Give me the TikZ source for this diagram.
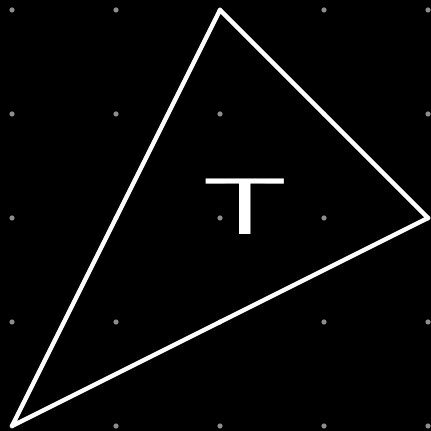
\documentclass[tikz,border=0pt]{standalone}
\usepackage{tikz}
\usetikzlibrary{positioning, calc}

\begin{document}
\begin{tikzpicture}[
          griddot/.style={circle, fill=gray!90, inner sep=0pt, minimum size=0.05cm},
          edge/.style={draw=white, line width=1.2pt, line join=round}
        ]
          \fill[black] (-0.1154,-0.048) rectangle (4.0288,4.0962);
          \useasboundingbox (-0.1154,-0.048) rectangle (4.0288,4.0962);
          \foreach \i in {0,...,4}
            \foreach \j in {0,...,4}
              \node[griddot] (d\i\j) at (\i,\j) {};
          \coordinate (top) at (2,4);
          \coordinate (right) at (4,2);
          \coordinate (left) at (0,0);
          \draw[edge] (top) -- (right) -- (left) -- cycle;
          \node[text=white, font=\sffamily\fontsize{22}{22}\selectfont, xscale=1.7] (label) at (2.24,2.106) {T};
        \end{tikzpicture}
\end{document}
